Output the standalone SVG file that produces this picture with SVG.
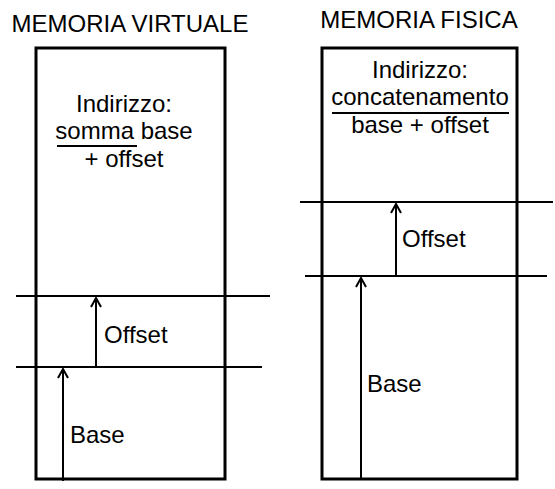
<svg xmlns="http://www.w3.org/2000/svg" width="555" height="489" viewBox="0 0 555 489">
<defs>
<marker id="ah" markerWidth="14" markerHeight="14" refX="12" refY="7" orient="auto" markerUnits="userSpaceOnUse" viewBox="0 0 14 14">
<path d="M3,2 L12,7 L3,12" fill="none" stroke="#000" stroke-width="2"/>
</marker>
<style>
text{font-family:"Liberation Sans",Arial,sans-serif;font-size:24px;fill:#000}
.box{fill:#fff;stroke:#000;stroke-width:3}
.hl{stroke:#000;stroke-width:2}
.ar{stroke:#000;stroke-width:2;fill:none}
</style>
</defs>
<rect width="555" height="489" fill="#fff"/>
<g id="virtuale">
<text x="130" y="32" text-anchor="middle">MEMORIA VIRTUALE</text>
<rect class="box" x="36" y="48" width="189" height="431"/>
<text x="124" y="112" text-anchor="middle">Indirizzo:</text>
<text x="124" y="139" text-anchor="middle">somma base</text>
<line class="hl" x1="57" y1="146" x2="137" y2="146"/>
<text x="124" y="167" text-anchor="middle">+ offset</text>
</g>
<g id="fisica">
<text x="419" y="28" text-anchor="middle">MEMORIA FISICA</text>
<rect class="box" x="322" y="48" width="195" height="431"/>
<text x="420" y="78" text-anchor="middle">Indirizzo:</text>
<text x="420" y="105" text-anchor="middle">concatenamento</text>
<line class="hl" x1="332" y1="113" x2="509" y2="113"/>
<text x="420" y="133" text-anchor="middle">base + offset</text>
</g>
<g id="connectors">
<line class="hl" x1="16" y1="296" x2="270" y2="296"/>
<line class="hl" x1="16" y1="367" x2="262" y2="367"/>
<line class="ar" x1="96" y1="367" x2="96" y2="298" marker-end="url(#ah)"/>
<line class="ar" x1="63" y1="481" x2="63" y2="369" marker-end="url(#ah)"/>
<line class="hl" x1="300" y1="202" x2="553" y2="202"/>
<line class="hl" x1="305" y1="276" x2="547" y2="276"/>
<line class="ar" x1="396" y1="276" x2="396" y2="204" marker-end="url(#ah)"/>
<line class="ar" x1="361" y1="479" x2="361" y2="278" marker-end="url(#ah)"/>
</g>
<g id="labels">
<text x="104" y="343">Offset</text>
<text x="70" y="443">Base</text>
<text x="402" y="247">Offset</text>
<text x="367" y="392">Base</text>
</g>
</svg>
